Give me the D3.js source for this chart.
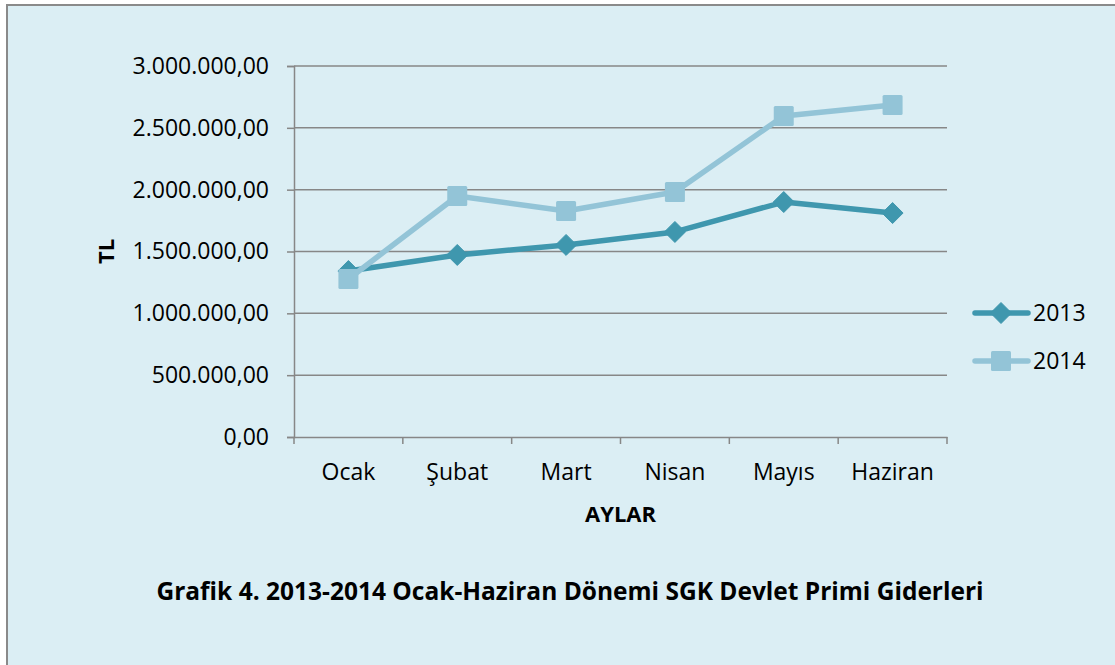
<!DOCTYPE html>
<html>
<head>
<meta charset="utf-8">
<script src="https://cdn.jsdelivr.net/npm/d3@7"></script>
<style>
  body { margin: 0; background: #fff; }
  svg text { font-family: "Open Sans", sans-serif; fill: #000; }
</style>
</head>
<body>
<svg id="chart" width="1115" height="665"></svg>
<script>
var months = ["Ocak", "Şubat", "Mart", "Nisan", "Mayıs", "Haziran"];
var values2013 = [1342000, 1472000, 1553000, 1658000, 1900000, 1811000];
var values2014 = [1278000, 1949000, 1827000, 1981000, 2596000, 2685000];
var yTicks = [0, 500000, 1000000, 1500000, 2000000, 2500000, 3000000];

var series = [
  { name: "2013", values: values2013, color: "#3f97ae", marker: "diamond" },
  { name: "2014", values: values2014, color: "#93c4d7", marker: "square" }
];

var svg = d3.select("#chart");

// chart area background + border
svg.append("rect")
  .attr("x", 7).attr("y", 5)
  .attr("width", 1120).attr("height", 680)
  .attr("fill", "#dbeef4")
  .attr("stroke", "#8a8a8a")
  .attr("stroke-width", 2);

var plot = { left: 294, right: 947, top: 66, bottom: 437 };

var x = d3.scaleBand().domain(months).range([plot.left, plot.right]);
var y = d3.scaleLinear().domain([0, 3000000]).range([plot.bottom, plot.top]);

var fmt = function(v) {
  var s = d3.format(",.2f")(v);
  return s.replace(/,/g, "#").replace(".", ",").replace(/#/g, ".");
};

// gridlines
svg.append("g")
  .selectAll("line")
  .data(yTicks.slice(1))
  .join("line")
  .attr("x1", plot.left).attr("x2", plot.right)
  .attr("y1", function(d) { return y(d); })
  .attr("y2", function(d) { return y(d); })
  .attr("stroke", "#878787")
  .attr("stroke-width", 1.5);

// y axis
var yAxis = svg.append("g")
  .attr("transform", "translate(" + plot.left + ",0)")
  .call(d3.axisLeft(y).tickValues(yTicks).tickFormat(fmt).tickSize(7).tickPadding(18));
yAxis.select(".domain").attr("stroke", "#878787").attr("stroke-width", 1.5);
yAxis.selectAll(".tick line").attr("stroke", "#878787").attr("stroke-width", 1.5);
yAxis.selectAll("text").attr("font-size", 23).attr("fill", "#000")
  .attr("font-family", "Open Sans, sans-serif");

// x axis
var xAxis = svg.append("g")
  .attr("transform", "translate(0," + plot.bottom + ")")
  .call(d3.axisBottom(x).tickSize(0).tickPadding(27));
xAxis.select(".domain").attr("stroke", "#878787").attr("stroke-width", 1.5);
xAxis.selectAll("text").attr("font-size", 23).attr("fill", "#000")
  .attr("font-family", "Open Sans, sans-serif");

var xTickPos = months.map(function(m) { return x(m); }).concat([plot.right]);
svg.append("g")
  .selectAll("line")
  .data(xTickPos)
  .join("line")
  .attr("x1", function(d) { return d; }).attr("x2", function(d) { return d; })
  .attr("y1", plot.bottom).attr("y2", plot.bottom + 7)
  .attr("stroke", "#878787")
  .attr("stroke-width", 1.5);

// axis titles
svg.append("text")
  .attr("x", (plot.left + plot.right) / 2).attr("y", 522)
  .attr("text-anchor", "middle")
  .attr("font-size", 22).attr("font-weight", "bold")
  .text("AYLAR");

svg.append("text")
  .attr("transform", "translate(114," + ((plot.top + plot.bottom) / 2) + ") rotate(-90)")
  .attr("text-anchor", "middle")
  .attr("font-size", 22).attr("font-weight", "bold")
  .text("TL");

// chart title
svg.append("text")
  .attr("x", 570).attr("y", 600)
  .attr("text-anchor", "middle")
  .attr("font-size", 24.5).attr("font-weight", "bold")
  .text("Grafik 4. 2013-2014 Ocak-Haziran Dönemi SGK Devlet Primi Giderleri");

var cx = function(i) { return x(months[i]) + x.bandwidth() / 2; };

function drawMarker(g, type, px, py, color) {
  if (type === "diamond") {
    var r = 10.5;
    g.append("path")
      .attr("d", "M" + px + "," + (py - r) + "L" + (px + r) + "," + py + "L" + px + "," + (py + r) + "L" + (px - r) + "," + py + "Z")
      .attr("fill", color)
      .attr("stroke", color).attr("stroke-width", 1).attr("stroke-linejoin", "round");
  } else {
    g.append("rect")
      .attr("x", px - 10).attr("y", py - 10)
      .attr("width", 20).attr("height", 20)
      .attr("rx", 1.5)
      .attr("fill", color);
  }
}

var line = d3.line()
  .x(function(d, i) { return cx(i); })
  .y(function(d) { return y(d); });

series.forEach(function(s) {
  var g = svg.append("g");
  g.append("path")
    .datum(s.values)
    .attr("d", line)
    .attr("fill", "none")
    .attr("stroke", s.color)
    .attr("stroke-width", 5.5)
    .attr("stroke-linejoin", "round")
    .attr("stroke-linecap", "round");
  s.values.forEach(function(v, i) {
    drawMarker(g, s.marker, cx(i), y(v), s.color);
  });
});

// legend
series.forEach(function(s, i) {
  var ly = 313 + i * 48;
  var g = svg.append("g");
  g.append("line")
    .attr("x1", 975).attr("x2", 1028)
    .attr("y1", ly).attr("y2", ly)
    .attr("stroke", s.color).attr("stroke-width", 5.5)
    .attr("stroke-linecap", "round");
  drawMarker(g, s.marker, 1001, ly, s.color);
  g.append("text")
    .attr("x", 1033).attr("y", ly + 8)
    .attr("font-size", 23)
    .text(s.name);
});
</script>
</body>
</html>
